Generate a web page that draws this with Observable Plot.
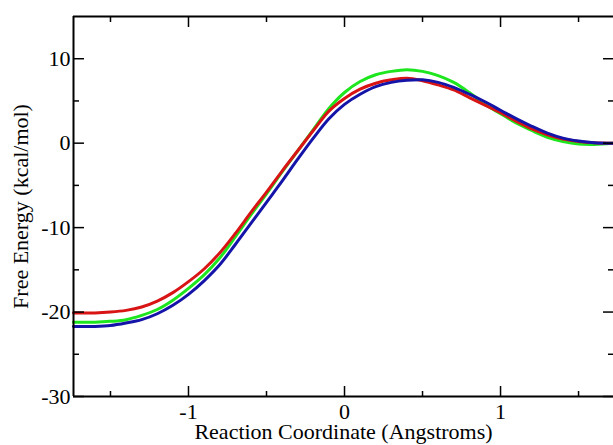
<!DOCTYPE html>
<html>
<head>
<meta charset="utf-8">
<script src="https://cdn.jsdelivr.net/npm/d3@7"></script>
<script src="https://cdn.jsdelivr.net/npm/@observablehq/plot@0.6"></script>
<style>
  html, body { margin: 0; padding: 0; background: #fff; overflow: hidden; }
  #chart svg, #chart svg text { font-family: "Liberation Serif", "DejaVu Serif", serif !important; }
</style>
</head>
<body>
<div id="chart"></div>
<script>
// Reaction coordinate (Angstroms)
const coord = [-1.737, -1.6, -1.5, -1.4, -1.3, -1.2, -1.1, -1.0, -0.9, -0.8, -0.7, -0.6, -0.5, -0.4, -0.3, -0.2, -0.1,
               0.0, 0.1, 0.2, 0.3, 0.4, 0.5, 0.6, 0.7, 0.8, 0.9, 1.0, 1.1, 1.2, 1.3, 1.4, 1.5, 1.6, 1.724];
// Free energy (kcal/mol) for each curve
const redEnergy   = [-20.1, -20.1, -20.0, -19.8, -19.4, -18.7, -17.7, -16.4, -14.9, -13.0, -10.7, -8.2, -5.8, -3.3, -0.9, 1.5, 3.8,
                     5.3, 6.4, 7.1, 7.5, 7.7, 7.4, 6.9, 6.3, 5.4, 4.5, 3.6, 2.6, 1.7, 1.0, 0.5, 0.2, 0.05, 0.0];
const greenEnergy = [-21.2, -21.2, -21.1, -20.9, -20.4, -19.7, -18.6, -17.2, -15.6, -13.6, -11.1, -8.5, -6.0, -3.4, -0.9, 1.6, 4.1,
                     6.0, 7.3, 8.1, 8.5, 8.7, 8.5, 8.0, 7.2, 6.0, 4.6, 3.5, 2.4, 1.5, 0.7, 0.2, -0.1, -0.15, 0.0];
const blueEnergy  = [-21.7, -21.7, -21.6, -21.3, -20.9, -20.2, -19.2, -17.9, -16.3, -14.4, -12.0, -9.5, -7.0, -4.5, -1.9, 0.6, 2.9,
                     4.6, 5.8, 6.7, 7.2, 7.45, 7.5, 7.2, 6.6, 5.8, 4.9, 3.9, 2.9, 2.0, 1.2, 0.6, 0.25, 0.05, 0.0];

const xDomain = [-1.737, 1.724];
const yDomain = [-30, 15];
const xMajor = [-1, 0, 1];
const xMinor = [-1.5, -0.5, 0.5, 1.5];
const yMajor = [-30, -20, -10, 0, 10];
const yMinor = [-25, -15, -5, 5];

const series = [
  {name: "green", color: "#1ee61e", values: greenEnergy},
  {name: "red",   color: "#d81414", values: redEnergy},
  {name: "blue",  color: "#1414a8", values: blueEnergy}
];

const lineMarks = series.map(s =>
  Plot.line(coord.map((x, i) => ({x, y: s.values[i]})), {
    x: "x", y: "y", stroke: s.color, strokeWidth: 3, curve: "catmull-rom"
  })
);

const tickStyle = {fill: "none", label: null, strokeWidth: 1.5};
const fmt = d => String(d);

const chart = Plot.plot({
  width: 613,
  height: 445,
  marginLeft: 73,
  marginRight: 0,
  marginTop: 16,
  marginBottom: 49,
  style: {fontFamily: "Liberation Serif, DejaVu Serif, serif", fontSize: "22px", background: "#fff", color: "#000"},
  x: {domain: xDomain, axis: null},
  y: {domain: yDomain, axis: null},
  marks: [
    ...lineMarks,
    // inward ticks
    Plot.axisX(xMajor, {anchor: "bottom", tickSize: -10, ...tickStyle}),
    Plot.axisX(xMinor, {anchor: "bottom", tickSize: -5, ...tickStyle}),
    Plot.axisX(xMajor, {anchor: "top", tickSize: -10, ...tickStyle}),
    Plot.axisX(xMinor, {anchor: "top", tickSize: -5, ...tickStyle}),
    Plot.axisY(yMajor, {anchor: "left", tickSize: -11, ...tickStyle}),
    Plot.axisY(yMinor, {anchor: "left", tickSize: -6, ...tickStyle}),
    Plot.axisY(yMajor, {anchor: "right", tickSize: -11, ...tickStyle}),
    Plot.axisY(yMinor, {anchor: "right", tickSize: -6, ...tickStyle}),
    // tick labels and titles
    Plot.axisX(xMajor, {anchor: "bottom", tickSize: 0, tickPadding: 7, tickFormat: fmt,
      label: "Reaction Coordinate (Angstroms)", labelAnchor: "center", labelArrow: "none", labelOffset: 42}),
    Plot.axisY(yMajor, {anchor: "left", tickSize: 0, tickPadding: 3, tickFormat: fmt,
      label: "Free Energy (kcal/mol)", labelAnchor: "center", labelArrow: "none", labelOffset: 61}),
    // frame (left, top, bottom)
    Plot.ruleX([xDomain[0]], {strokeWidth: 2}),
    Plot.ruleY([yDomain[0]], {strokeWidth: 2}),
    Plot.ruleY([yDomain[1]], {strokeWidth: 2})
  ]
});

document.getElementById("chart").appendChild(chart);
</script>
</body>
</html>
